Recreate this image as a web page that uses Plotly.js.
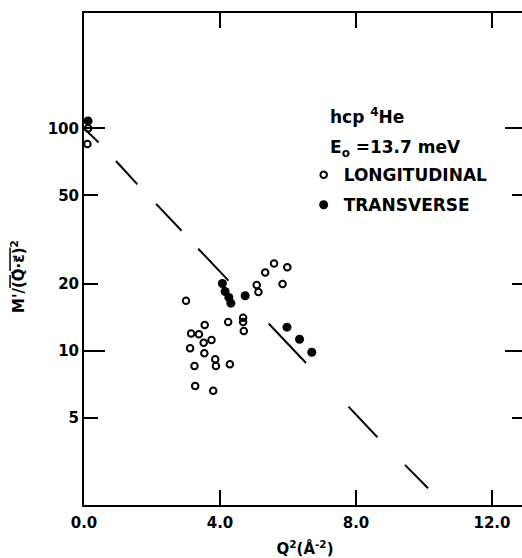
<!DOCTYPE html>
<html><head><meta charset="utf-8">
<script src="https://cdn.plot.ly/plotly-3.0.1.min.js"></script>
<style>html,body{margin:0;padding:0;overflow:hidden;background:#fff}</style>
</head><body><div id="chart" style="width:540px;height:558px"></div>
<script>
// Longitudinal (open circles)
const longQ = [0.10, 0.12, 3.00, 3.55, 3.15, 3.38, 3.52, 3.75, 3.12, 3.54, 3.86, 3.88, 3.25, 4.29, 3.27, 3.80, 4.24, 4.68, 4.68, 4.70, 5.08, 5.13, 5.33, 5.59, 5.98, 5.84];
const longM = [85, 100, 16.8, 13.1, 12.0, 11.9, 10.9, 11.2, 10.3, 9.77, 9.18, 8.57, 8.57, 8.72, 6.96, 6.63, 13.5, 14.1, 13.5, 12.3, 19.8, 18.4, 22.5, 24.7, 23.8, 20.0];
// Transverse (filled circles)
const transQ = [0.12, 4.07, 4.15, 4.26, 4.32, 4.74, 5.97, 6.34, 6.70];
const transM = [108, 20.1, 18.5, 17.4, 16.4, 17.7, 12.8, 11.3, 9.87];
// Dashed theoretical line, drawn segment by segment (null = gap)
const fitQ = [0, 0.43, null, 0.94, 1.57, null, 2.12, 2.87, null, 3.36, 4.25, null, 5.43, 6.53, null, 7.78, 8.63, null, 9.44, 10.12];
const fitM = [100, 86.3, null, 71.3, 56.0, null, 45.8, 34.7, null, 28.8, 20.7, null, 13.3, 8.83, null, 5.63, 4.10, null, 3.08, 2.42];
// Ticks
const xTickVals = [0, 4, 8, 12];
const xTickText = ['0.0', '4.0', '8.0', '12.0'];
const yTickVals = [5, 10, 20, 50, 100];
const yTickText = ['5', '10', '20', '50', '100'];
const yMajorVals = [10, 100];

const FONT = 'DejaVu Sans, Liberation Sans, sans-serif';
const yRange = [Math.log10(2.035), Math.log10(329.5)];
const xRange = [0, 13.0];

const traces = [
  {x: fitQ, y: fitM, type: 'scatter', mode: 'lines', yaxis: 'y2', connectgaps: false,
   line: {color: '#000', width: 2}, showlegend: false, hoverinfo: 'skip'},
  {x: longQ, y: longM, type: 'scatter', mode: 'markers', name: 'LONGITUDINAL', legendgroup: 'L',
   marker: {symbol: 'circle-open', size: 6.5, color: '#000', line: {color: '#000', width: 2}}},
  {x: transQ, y: transM, type: 'scatter', mode: 'markers', name: 'TRANSVERSE', legendgroup: 'T',
   marker: {symbol: 'circle', size: 9, color: '#000'}}
];

const layout = {
  width: 540, height: 558,
  margin: {l: 84, r: 14, t: 13, b: 53},
  paper_bgcolor: '#fff', plot_bgcolor: '#fff',
  font: {family: FONT, color: '#000', size: 15, weight: 'bold'},
  showlegend: true,
  legend: {x: 0.497, xanchor: 'left', y: 0.707, yanchor: 'top', bgcolor: 'rgba(0,0,0,0)',
           tracegroupgap: 5,
           font: {family: FONT, size: 17, weight: 'bold', color: '#000'}, itemwidth: 30},
  xaxis: {range: xRange, showgrid: false, zeroline: false, showline: true, linecolor: '#000', linewidth: 2,
          mirror: 'ticks', ticks: 'inside', ticklen: 15, tickwidth: 2, tickcolor: '#000',
          tickmode: 'array', tickvals: xTickVals, ticktext: xTickText, ticklabelstandoff: 3,
          tickfont: {family: FONT, size: 15, weight: 'bold'},
          title: {text: 'Q<sup>2</sup>(Å<sup>-2</sup>)', font: {family: FONT, size: 15, weight: 'bold'}}},
  yaxis: {type: 'log', range: yRange, showgrid: false, zeroline: false, showline: true, linecolor: '#000', linewidth: 2,
          mirror: 'ticks', ticks: 'inside', ticklen: 14, tickwidth: 2, tickcolor: '#000',
          tickmode: 'array', tickvals: yTickVals, ticktext: yTickText,
          tickfont: {family: FONT, size: 15, weight: 'bold'}},
  yaxis2: {type: 'log', range: yRange, overlaying: 'y', side: 'left', anchor: 'x', showgrid: false, zeroline: false,
           showline: false, mirror: 'ticks', ticks: 'inside', ticklen: 21, tickwidth: 2, tickcolor: '#000',
           tickmode: 'array', tickvals: yMajorVals, showticklabels: false},
  annotations: [
    {text: "M'/<span style='text-decoration:overline'>(Q⃗·ε⃗)</span><sup>2</sup>", textangle: -90,
     xref: 'paper', yref: 'paper', x: -0.1493, y: 0.4634, xanchor: 'center', yanchor: 'middle',
     showarrow: false, font: {family: FONT, size: 15, weight: 'bold', color: '#000'}},
    {text: 'hcp <sup>4</sup>He', xref: 'paper', yref: 'paper', x: 0.552, y: 0.7907, xanchor: 'left', yanchor: 'middle',
     showarrow: false, font: {family: FONT, size: 17, weight: 'bold', color: '#000'}},
    {text: 'E<sub>o</sub> =13.7 meV', xref: 'paper', yref: 'paper', x: 0.552, y: 0.7256, xanchor: 'left', yanchor: 'middle',
     showarrow: false, font: {family: FONT, size: 17, weight: 'bold', color: '#000'}}
  ]
};

Plotly.newPlot('chart', traces, layout, {displayModeBar: false, staticPlot: true});
</script></body></html>
